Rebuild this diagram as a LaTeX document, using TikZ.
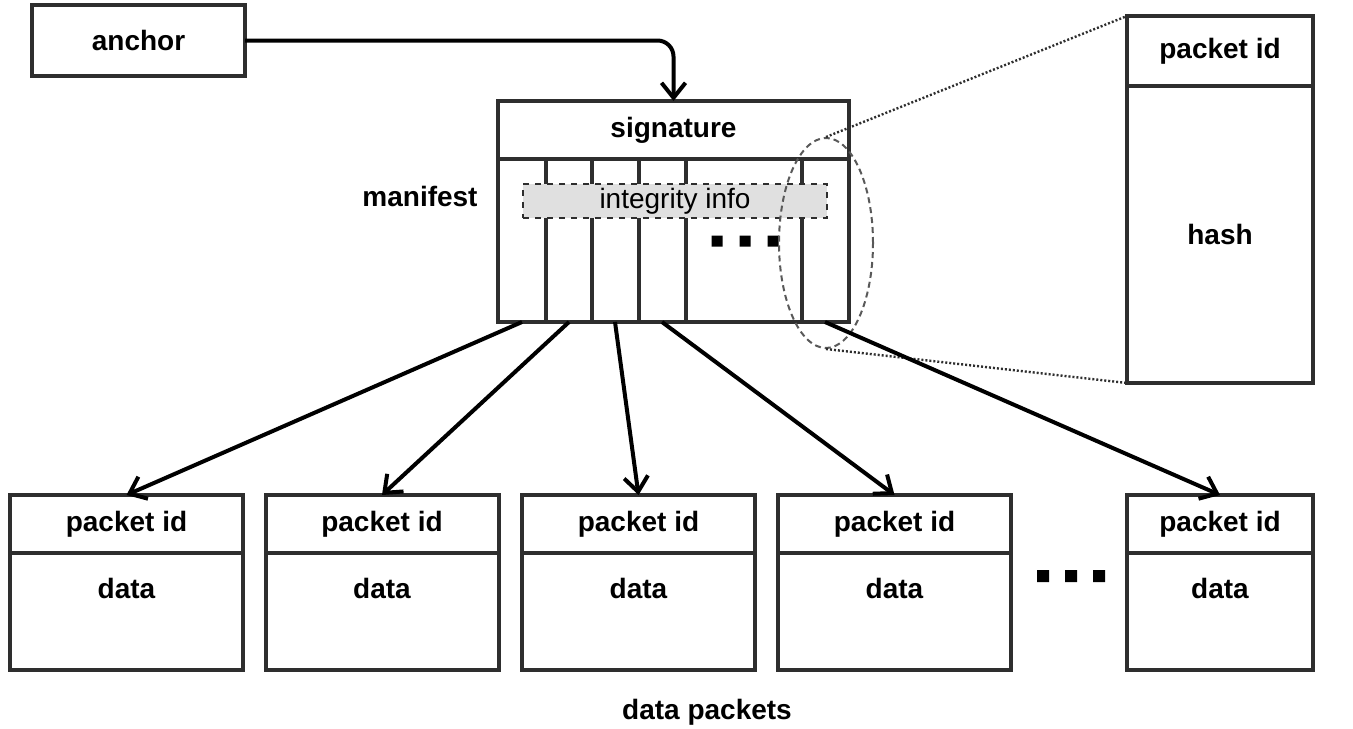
\documentclass[tikz,border=0pt]{standalone}
\usepackage{fontspec}
\setmainfont{Liberation Sans}
\usetikzlibrary{arrows.meta,shapes.geometric}
\definecolor{edge}{HTML}{2E2E2E}
\definecolor{infofill}{HTML}{E0E0E0}
\tikzset{
  box/.style={draw=edge, line width=2pt, inner sep=0pt, outer sep=0pt, font=\bfseries\fontsize{14}{16}\selectfont},
  head/.style={box, minimum width=116.5pt, minimum height=29pt},
  body/.style={box, minimum width=116.5pt, minimum height=58.5pt, anchor=north},
  lbl/.style={inner sep=0pt, font=\bfseries\fontsize{14}{16}\selectfont},
  arr/.style={line width=2pt, -{Straight Barb[length=7.5pt,width=12pt]}},
}
\begin{document}
\begin{tikzpicture}[x=0.5pt, y=-0.5pt]
\useasboundingbox (0,0) rectangle (1353,728);
% anchor and manifest
\node[box, minimum width=106.5pt, minimum height=35.5pt] (anc) at (138.5,40.5) {anchor};
\node[box, minimum width=175.5pt, minimum height=29pt] (sig) at (673.5,130) {signature};
\node[box, minimum width=175.5pt, minimum height=81.5pt, anchor=north] (mani) at (sig.south) {};
\draw[edge, line width=2pt] (546,159) -- (546,322) (592,159) -- (592,322) (639,159) -- (639,322)
  (686,159) -- (686,322) (802,159) -- (802,322);
\node[draw=edge, fill=infofill, dashed, line width=1.2pt, minimum width=152pt, minimum height=17pt,
  inner sep=0pt, font=\fontsize{14}{16}\selectfont] (info) at (675,201) {integrity info};
\fill (711.5,235.5) rectangle ++(11,11) (739.5,235.5) rectangle ++(11,11) (767.5,235.5) rectangle ++(11,11);
\node[lbl] (mlab) at (420,196) {manifest};
\draw[arr, rounded corners=8pt] (anc.east) -| (sig.north);
% zoomed entry
\node[box, minimum width=93pt, minimum height=35pt] (hid) at (1220,51) {packet id};
\node[box, minimum width=93pt, minimum height=148.5pt, anchor=north] (hash) at (hid.south) {hash};
\node[ellipse, draw=gray!70!black, dash pattern=on 3pt off 2pt, line width=1pt, inner sep=0pt,
  minimum width=47pt, minimum height=105pt] (zoom) at (826,243) {};
\draw[edge, line width=1.2pt, dash pattern=on 1pt off 1pt] (zoom.north) -- (hid.north west);
\draw[edge, line width=1.2pt, dash pattern=on 1pt off 1pt] (zoom.south) -- (hash.south west);
% data packets
\node[head] (p1) at (126.5,524) {packet id};
\node[body] (p1b) at (p1.south) {};
\node[lbl] (p1d) at ([yshift=-17.5pt]p1b.north) {data};
\node[head] (p2) at (382,524) {packet id};
\node[body] (p2b) at (p2.south) {};
\node[lbl] (p2d) at ([yshift=-17.5pt]p2b.north) {data};
\node[head] (p3) at (638.5,524) {packet id};
\node[body] (p3b) at (p3.south) {};
\node[lbl] (p3d) at ([yshift=-17.5pt]p3b.north) {data};
\node[head] (p4) at (894.5,524) {packet id};
\node[body] (p4b) at (p4.south) {};
\node[lbl] (p4d) at ([yshift=-17.5pt]p4b.north) {data};
\node[head, minimum width=93pt] (p5) at (1220,524) {packet id};
\node[body, minimum width=93pt] (p5b) at (p5.south) {};
\node[lbl] (p5d) at ([yshift=-17.5pt]p5b.north) {data};
\fill (1037,570) rectangle ++(12,12) (1065,570) rectangle ++(12,12) (1093,570) rectangle ++(12,12);
\node[lbl] (dlab) at (707,712) {data packets};
% manifest entries to packets
\coordinate (m1) at (522,322);
\coordinate (m2) at (569,322);
\coordinate (m3) at (615,322);
\coordinate (m4) at (662,322);
\coordinate (m5) at (825,322);
\draw[arr] (m1) -- (p1.north);
\draw[arr] (m2) -- (p2.north);
\draw[arr] (m3) -- (p3.north);
\draw[arr] (m4) -- (p4.north);
\draw[arr] (m5) -- (p5.north);
\end{tikzpicture}
\end{document}
